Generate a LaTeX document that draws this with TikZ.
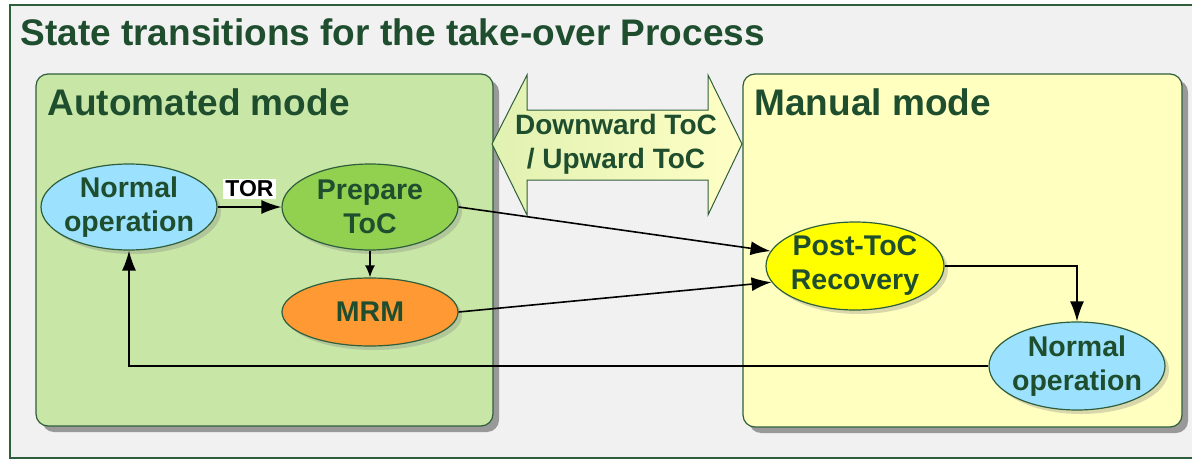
\documentclass[tikz,border=0pt]{standalone}
\usepackage{fontspec}
\setmainfont{Liberation Sans}
\usetikzlibrary{shapes.geometric,shadows,arrows.meta}
\definecolor{txtgreen}{HTML}{1F4E2F}
\definecolor{linegreen}{HTML}{2F5E3C}
\definecolor{autofill}{HTML}{C8E6A5}
\definecolor{manfill}{HTML}{FFFFBF}
\definecolor{framebg}{HTML}{F1F1F1}
\definecolor{normalblue}{HTML}{9CE2FF}
\definecolor{prepgreen}{HTML}{92D050}
\definecolor{mrmorange}{HTML}{FF9933}
\definecolor{postyellow}{HTML}{FFFF00}
\begin{document}
\begin{tikzpicture}[x=1pt,y=-1pt,>={Latex[length=20pt,width=14pt]},
	state/.style={ellipse,draw=linegreen,line width=1.2pt,text=txtgreen,
		font=\fontsize{28.5}{34}\selectfont\bfseries,align=center,
		inner xsep=-15pt,inner ysep=-12pt,
		minimum width=176pt,minimum height=86pt,
		drop shadow={shadow xshift=4pt,shadow yshift=-4pt,opacity=0.3}},
	modebox/.style={draw=linegreen,line width=1.2pt,rounded corners=12pt,
		drop shadow={shadow xshift=6pt,shadow yshift=-6pt,fill=black!40,opacity=1}},
	modetitle/.style={anchor=base west,text=txtgreen,
		font=\fontsize{37}{42}\selectfont\bfseries},
	flow/.style={line width=1.6pt}]
\useasboundingbox (0,0) rectangle (1192,460);
% frame
\draw[fill=framebg,draw=linegreen,line width=1.2pt] (10,5) rectangle (1210,458);
\node[anchor=base west,text=txtgreen,font=\fontsize{37}{42}\selectfont\bfseries]
	(title) at (17,46) {State transitions for the take-over Process};
% the two modes
\draw[modebox,fill=autofill] (36,74) rectangle (493,426);
\draw[modebox,fill=manfill] (743,74) rectangle (1182,427);
\node[modetitle] (auto) at (44,115) {Automated mode};
\node[modetitle] (manual) at (751,115) {Manual mode};
% transition arrow between the modes
\draw[draw=linegreen,line width=1pt,left color=autofill!55!manfill,right color=manfill!90!white]
	(492,144) -- (527,75) -- (527,110) -- (708,110) -- (708,75) -- (742,144)
	-- (708,215) -- (708,180) -- (527,180) -- (527,215) -- cycle;
\node[text=txtgreen,font=\fontsize{28}{34}\selectfont\bfseries,align=center]
	(toc) at (616,144) {Downward ToC\\/ Upward ToC};
% states
\node[state,fill=normalblue] (nleft) at (129,207) {Normal\\operation};
\node[state,fill=prepgreen] (prep) at (370,207) {Prepare\\ToC};
\node[state,fill=mrmorange,minimum height=68pt] (mrm) at (370,312) {MRM};
\node[state,fill=postyellow,minimum width=178pt,minimum height=88pt] (post) at (855,266) {Post-ToC\\Recovery};
\node[state,fill=normalblue,minimum height=88pt] (nright) at (1077,366) {Normal\\operation};
% transitions
\draw[flow,->] (nleft.east) -- (prep.west)
	node[midway,above=7pt,fill=white,inner sep=2pt,font=\fontsize{23}{25}\selectfont\bfseries] (tor) {TOR};
\draw[flow,-{Latex[length=12pt,width=10pt]}] (prep) -- (mrm);
\draw[flow,->] (prep.east) -- (post.170);
\draw[flow,->] (mrm.east) -- (post.191);
\draw[flow,->] (post.east) -| (nright.north);
\draw[flow,->] (nright.west) -| (nleft.south);
\end{tikzpicture}
\end{document}
